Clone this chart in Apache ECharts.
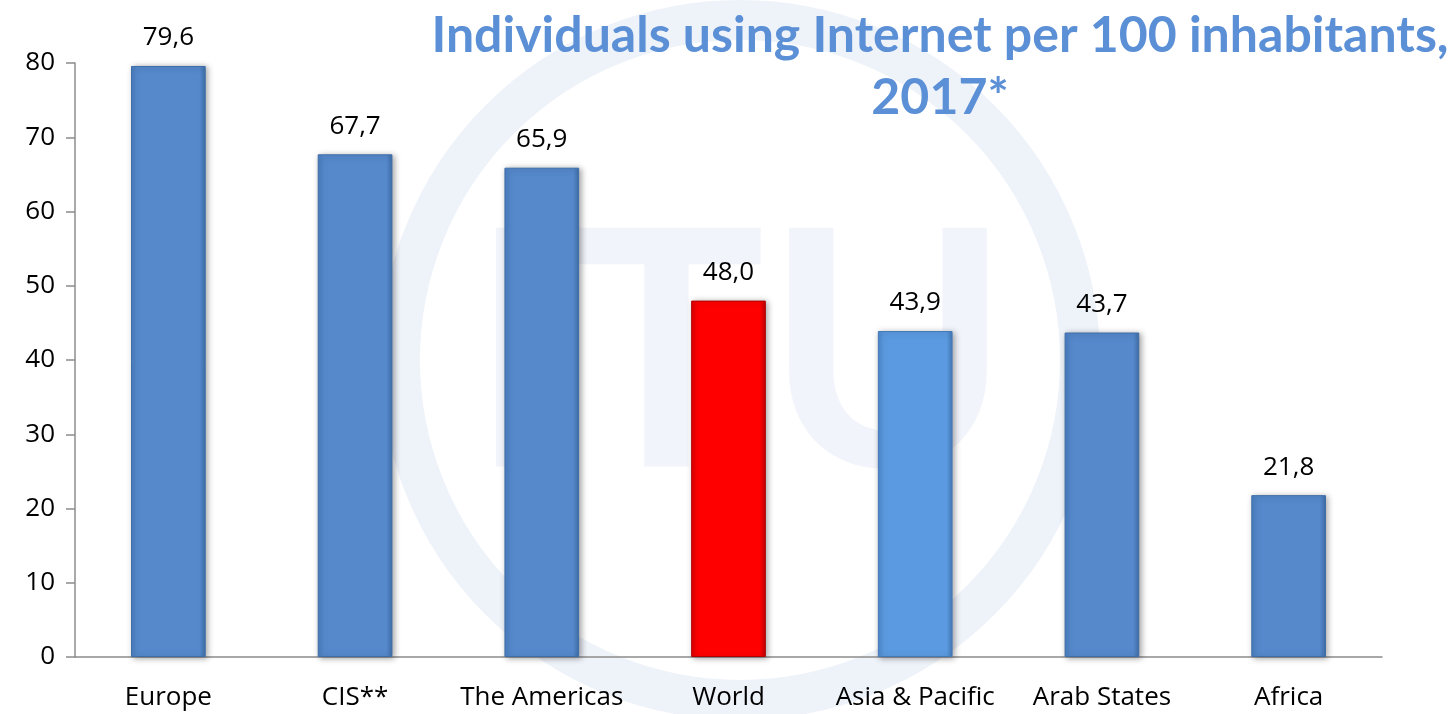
<!DOCTYPE html>
<html><head><meta charset="utf-8">
<script src="https://cdn.jsdelivr.net/npm/echarts@6/dist/echarts.min.js"></script>
<style>html,body{margin:0;padding:0;background:#fff}#c{width:1454px;height:714px}</style>
</head><body><div id="c"></div>
<script>
const categories = ['Europe', 'CIS**', 'The Americas', 'World', 'Asia & Pacific', 'Arab States', 'Africa'];
const values = [79.6, 67.7, 65.9, 48.0, 43.9, 43.7, 21.8];
const labels = ['79,6', '67,7', '65,9', '48,0', '43,9', '43,7', '21,8'];
const yTicks = [0, 10, 20, 30, 40, 50, 60, 70, 80];

const FONT = '"Open Sans", Lato, sans-serif';
const TFONT = 'Lato, "Open Sans", sans-serif';
function grad(top, mid, bot) {
  return new echarts.graphic.LinearGradient(0, 0, 1, 0, [
    {offset: 0, color: top}, {offset: 0.08, color: mid}, {offset: 0.92, color: mid}, {offset: 1, color: bot}
  ]);
}
const blue = grad('#4a7fc0', '#5589cc', '#3f6ea8');
const blueLight = grad('#4f8ad0', '#5b9ae0', '#447bb8');
const red = grad('#e00000', '#ff0000', '#c00000');
const colors = [blue, blue, blue, red, blueLight, blue, blue];
const borders = ['#3e6da8', '#3e6da8', '#3e6da8', '#b00000', '#4479b8', '#3e6da8', '#3e6da8'];

const chart = echarts.init(document.getElementById('c'), null, {renderer: 'canvas'});
chart.setOption({
  animation: false,
  backgroundColor: '#fff',
  graphic: [
    {type: 'circle', shape: {cx: 740, cy: 360, r: 340}, style: {fill: 'none', stroke: '#eef2f9', lineWidth: 40}, z: -10, silent: true},
    {type: 'text', style: {x: 740, y: 360, text: 'ITU', font: 'bold 330px ' + TFONT, fill: '#f1f4fa', align: 'center', verticalAlign: 'middle'}, z: -10, silent: true}
  ],
  title: {
    text: 'Individuals using Internet per 100 inhabitants,\n2017*',
    top: 0, left: 935, textAlign: 'center',
    textStyle: {color: '#5B8FD6', fontSize: 50, fontWeight: 'bold', fontFamily: TFONT, lineHeight: 62, align: 'center'}
  },
  grid: {left: 75, right: 72, top: 63, bottom: 57, containLabel: false},
  xAxis: {
    type: 'category', data: categories,
    axisLine: {lineStyle: {color: '#8c8c8c', width: 1.5}},
    axisTick: {show: false},
    axisLabel: {color: '#000', fontSize: 26, fontFamily: FONT, margin: 28, interval: 0, hideOverlap: false}
  },
  yAxis: {
    type: 'value', min: 0, max: 80, interval: 10,
    axisLine: {show: true, lineStyle: {color: '#8c8c8c', width: 1.5}},
    axisTick: {show: true, length: 9, lineStyle: {color: '#8c8c8c', width: 1.5}},
    splitLine: {show: false},
    axisLabel: {color: '#000', fontSize: 26, fontFamily: FONT, margin: 20,
      formatter: v => yTicks.includes(v) ? String(v) : ''}
  },
  series: [{
    type: 'bar', barWidth: '40%',
    data: values.map((v, i) => ({
      value: v,
      itemStyle: {color: colors[i], borderColor: borders[i], borderWidth: 1,
        shadowColor: 'rgba(0,0,0,0.35)', shadowBlur: 6, shadowOffsetX: 2, shadowOffsetY: 1}
    })),
    label: {show: true, position: 'top', distance: 15, color: '#000', fontSize: 26, fontFamily: FONT,
      formatter: p => labels[p.dataIndex]}
  }]
});
</script></body></html>
